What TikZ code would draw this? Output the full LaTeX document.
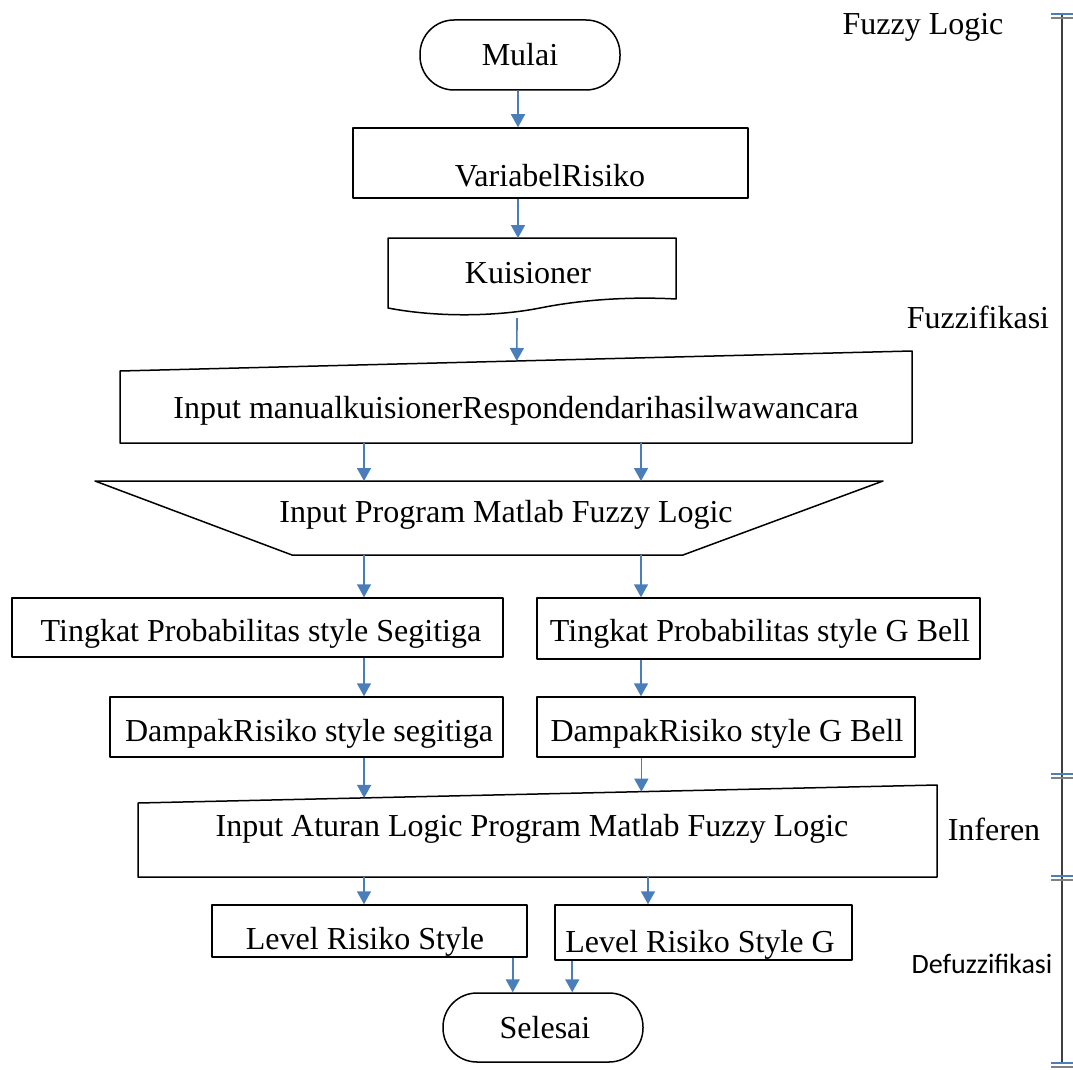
\documentclass[tikz,border=0pt]{standalone}
\usepackage{fontspec}
\setmainfont{Liberation Serif}
\newfontfamily\calibrifont{Carlito}
\usetikzlibrary{arrows.meta}
\definecolor{panahbiru}{RGB}{74,126,187}
\definecolor{garisabu}{RGB}{64,64,64}
\begin{document}
\begin{tikzpicture}[x=1pt,y=-1pt,font=\fontsize{32}{38}\selectfont, line join=round,
	kotak/.style={draw, line width=1.5pt, inner sep=0pt},
	ujung/.style={kotak, rounded corners=34pt},
	teks/.style={inner sep=0pt, text height=22pt, text depth=7pt},
	alur/.style={draw=panahbiru, line width=1.6pt, -{Triangle[length=13pt,width=14pt]}},
	garis/.style={line width=1.5pt}]
				\useasboundingbox (0,0) rectangle (1073,1070);
				% Kolom panah
				\coordinate (kolom-tengah) at (518,0);
				\coordinate (kolom-kiri) at (364,0);
				\coordinate (kolom-kanan) at (641,0);
				% Mulai dan variabel
				\node[ujung, minimum width=200pt, minimum height=70pt] (mulai) at (520,55) {};
				\node[teks] (mulai-t) at (520,58) {Mulai};
				\node[kotak, minimum width=395pt, minimum height=70pt] (variabel) at (550.5,163) {};
				\node[teks] (variabel-t) at (550,179) {VariabelRisiko};
				% Dokumen kuisioner
				\coordinate (kuis-tl) at (388,238);
				\coordinate (kuis-tr) at (676,238);
				\coordinate (kuis-out) at (517,318);
				\draw[garis] (388,308) -- (kuis-tl) -- (kuis-tr) -- (676,299)
					.. controls (640,297) and (590,298) .. (540,308)
					.. controls (500,316) and (440,318) .. (388,308) -- cycle;
				\node[teks] (kuis-t) at (528,276) {Kuisioner};
				% Input manual
				\coordinate (inman-tl) at (120,371);
				\coordinate (inman-tr) at (912,351);
				\coordinate (inman-br) at (912,443);
				\coordinate (inman-bl) at (120,443);
				\draw[garis] (inman-tl) -- (inman-tr) -- (inman-br) -- (inman-bl) -- cycle;
				\path (inman-tl) -- (inman-tr) coordinate[pos=0.501] (inman-in);
				\node[teks] (inman-t) at (516,411) {Input manualkuisionerRespondendarihasilwawancara};
				% Program Matlab
				\coordinate (prog-tl) at (95,481);
				\coordinate (prog-tr) at (883,481);
				\coordinate (prog-br) at (683,555);
				\coordinate (prog-bl) at (292,555);
				\draw[garis] (prog-tl) -- (prog-tr) -- (prog-br) -- (prog-bl) -- cycle;
				\node[teks] (prog-t) at (506,515) {Input Program Matlab Fuzzy Logic};
				% Probabilitas dan dampak
				\node[kotak, minimum width=491pt, minimum height=59pt] (tingkat-a) at (257.5,627.5) {};
				\node[teks] (tingkat-a-t) at (261,634) {Tingkat Probabilitas style Segitiga};
				\node[kotak, minimum width=443pt, minimum height=61pt] (tingkat-b) at (758.5,628.5) {};
				\node[teks] (tingkat-b-t) at (760,634) {Tingkat Probabilitas style G Bell};
				\node[kotak, minimum width=393pt, minimum height=60pt] (dampak-a) at (306.5,727) {};
				\node[teks] (dampak-a-t) at (309,734) {DampakRisiko style segitiga};
				\node[kotak, minimum width=378pt, minimum height=60pt] (dampak-b) at (726,727) {};
				\node[teks] (dampak-b-t) at (727,734) {DampakRisiko style G Bell};
				% Aturan logic
				\coordinate (atur-tl) at (138,803);
				\coordinate (atur-tr) at (937,785);
				\coordinate (atur-br) at (937,877);
				\coordinate (atur-bl) at (138,877);
				\draw[garis] (atur-tl) -- (atur-tr) -- (atur-br) -- (atur-bl) -- cycle;
				\path (atur-tl) -- (atur-tr) coordinate[pos=0.283] (atur-in-a) coordinate[pos=0.630] (atur-in-b);
				\node[teks] (atur-t) at (532,829) {Input Aturan Logic Program Matlab Fuzzy Logic};
				% Level risiko dan selesai
				\node[kotak, minimum width=315pt, minimum height=52pt] (level-a) at (369.5,931) {};
				\node[teks] (level-a-t) at (365,942) {Level Risiko Style};
				\node[kotak, minimum width=297pt, minimum height=55pt] (level-b) at (703.5,932.5) {};
				\node[teks] (level-b-t) at (700,945) {Level Risiko Style G};
				\node[ujung, minimum width=200pt, minimum height=69pt] (selesai) at (543,1027.5) {};
				\node[teks] (selesai-t) at (545,1031) {Selesai};
				% Panah alur
				\draw[alur] (mulai.south -| kolom-tengah) -- (variabel.north -| kolom-tengah);
				\draw[alur] (variabel.south -| kolom-tengah) -- (kuis-tl -| kolom-tengah);
				\draw[alur] (kuis-out) -- (inman-in);
				\draw[alur] (inman-bl -| kolom-kiri) -- (prog-tl -| kolom-kiri);
				\draw[alur] (inman-br -| kolom-kanan) -- (prog-tr -| kolom-kanan);
				\draw[alur] (prog-bl -| kolom-kiri) -- (tingkat-a.north -| kolom-kiri);
				\draw[alur] (prog-br -| kolom-kanan) -- (tingkat-b.north -| kolom-kanan);
				\draw[alur] (tingkat-a.south -| kolom-kiri) -- (dampak-a.north -| kolom-kiri);
				\draw[alur] (tingkat-b.south -| kolom-kanan) -- (dampak-b.north -| kolom-kanan);
				\draw[alur] (dampak-a.south -| atur-in-a) -- (atur-in-a);
				\draw[alur] (dampak-b.south -| atur-in-b) -- (atur-in-b);
				\draw[alur] (atur-bl -| kolom-kiri) -- (level-a.north -| kolom-kiri);
				\draw[alur] ([xshift=7pt]atur-br -| kolom-kanan) -- ([xshift=7pt]level-b.north -| kolom-kanan);
				\draw[alur] ([xshift=-15pt]level-a.south east) -- ([xshift=-15pt]level-a.south east |- selesai.north);
				\draw[alur] ([xshift=18pt]level-b.south west) -- ([xshift=18pt]level-b.south west |- selesai.north);
				% Tahapan di kanan
				\node[teks] (lbl-fl) at (923,27) {Fuzzy Logic};
				\node[teks] (lbl-fz) at (978,321) {Fuzzifikasi};
				\node[teks] (lbl-inf) at (994,833) {Inferen};
				\node[teks, font=\calibrifont\fontsize{28}{34}\selectfont] (lbl-def) at (982,966) {Defuzzifikasi};
				\draw[garisabu, line width=1.5pt] (1062,14) -- (1062,1064);
				\foreach \t in {14,774,876,1063} {
					\draw[panahbiru, line width=1.2pt] (1051,\t) -- (1073,\t);
					\draw[gray, line width=1.2pt] (1051,\t+4) -- (1073,\t+4);
				}
			\end{tikzpicture}
\end{document}
